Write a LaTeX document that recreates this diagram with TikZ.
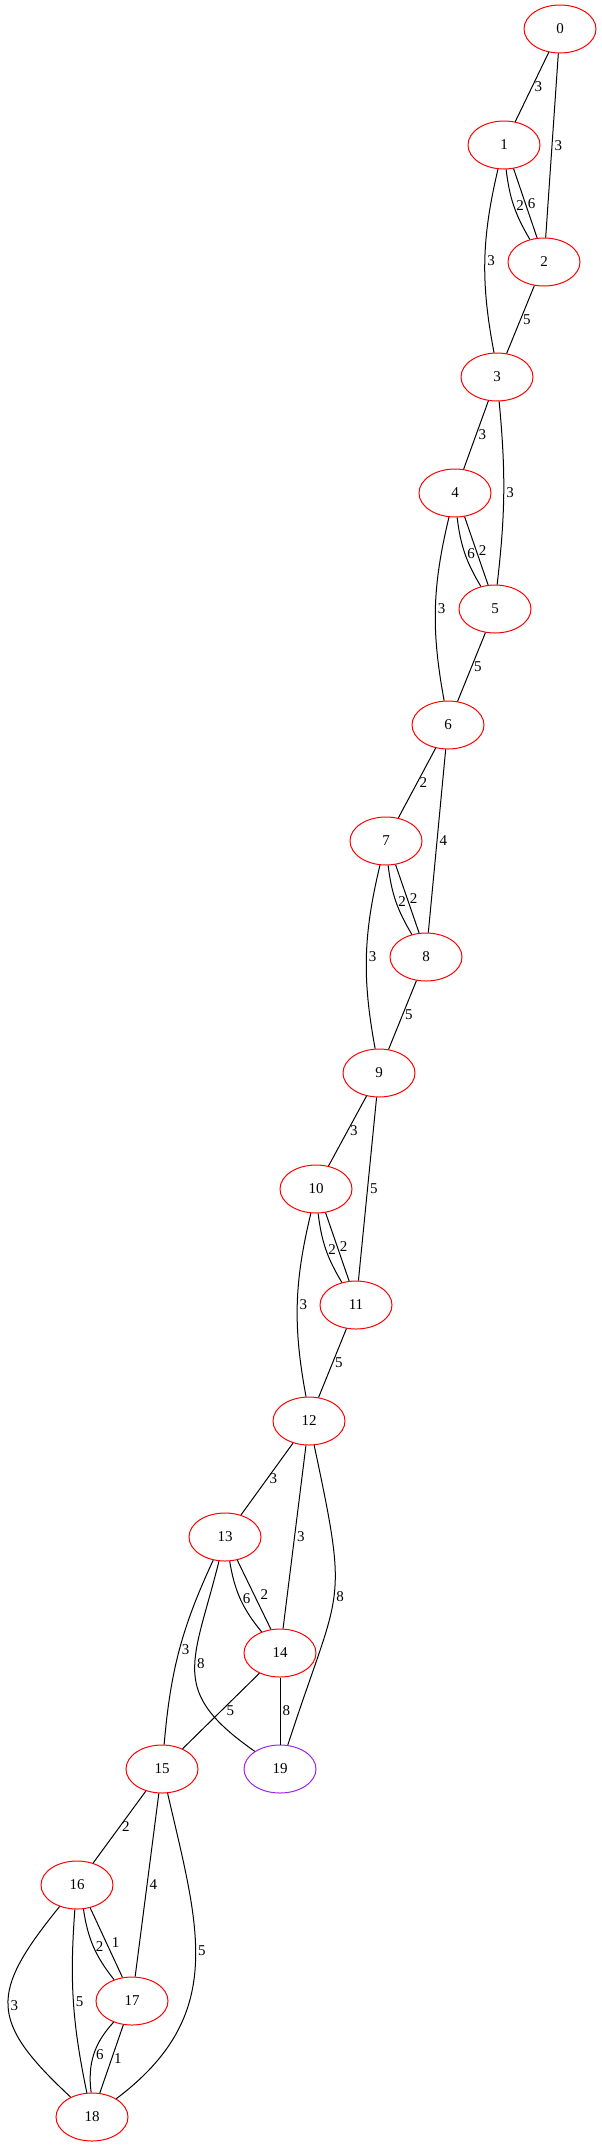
\documentclass[tikz,border=0pt]{standalone}
\usepackage{fontspec}
\setmainfont{Liberation Serif}
\usetikzlibrary{shapes.geometric}
\definecolor{gvpurple}{RGB}{160,32,240}

\begin{document}
\begin{tikzpicture}[x=1pt, y=1pt]
 \tikzstyle{vnode}=[ellipse, draw=red, line width=1pt, minimum width=72pt, minimum height=48pt, inner sep=0pt, font=\fontsize{15}{17}\selectfont]
 \tikzstyle{tnode}=[vnode, draw=gvpurple]
 \tikzstyle{line} = [draw, line width=1pt]
 \tikzstyle{lbl} = [right, inner sep=2pt, font=\fontsize{15}{17}\selectfont]

 \useasboundingbox (0,0) rectangle (602,-2147);

 \node[vnode] (n0) at (560,-29) {0};
 \node[vnode] (n1) at (504,-145) {1};
 \node[vnode] (n2) at (544,-262) {2};
 \node[vnode] (n3) at (497,-377) {3};
 \node[vnode] (n4) at (455,-493) {4};
 \node[vnode] (n5) at (495,-609) {5};
 \node[vnode] (n6) at (448,-725) {6};
 \node[vnode] (n7) at (386,-841) {7};
 \node[vnode] (n8) at (426,-957) {8};
 \node[vnode] (n9) at (379,-1073) {9};
 \node[vnode] (n10) at (316,-1189) {10};
 \node[vnode] (n11) at (356,-1305) {11};
 \node[vnode] (n12) at (309,-1421) {12};
 \node[vnode] (n13) at (225,-1537) {13};
 \node[vnode] (n14) at (280,-1653) {14};
 \node[vnode] (n15) at (162,-1769) {15};
 \node[tnode] (n19) at (280,-1769) {19};
 \node[vnode] (n16) at (77,-1885) {16};
 \node[vnode] (n17) at (132,-2001) {17};
 \node[vnode] (n18) at (92,-2117) {18};

 \path [line] (n0) -- node[lbl] {3} (n1);
 \path [line] (n0) -- node[lbl] {3} (n2);
 \path [line] (n1.-85) to[bend right=12] node[lbl] {2} (n2.122);
 \path [line] (n1.-68) -- node[lbl] {6} (n2.106);
 \path [line] (n1.-104) to[bend right=12] node[lbl] {3} (n3.97);
 \path [line] (n2) -- node[lbl] {5} (n3);

 \path [line] (n3) -- node[lbl] {3} (n4);
 \path [line] (n3.-85) to[bend left=6] node[lbl] {3} (n5.85);
 \path [line] (n4.-85) to[bend right=12] node[lbl] {6} (n5.122);
 \path [line] (n4.-68) -- node[lbl] {2} (n5.106);
 \path [line] (n4.-104) to[bend right=12] node[lbl] {3} (n6.99);
 \path [line] (n5) -- node[lbl] {5} (n6);

 \path [line] (n6) -- node[lbl] {2} (n7);
 \path [line] (n6) -- node[lbl] {4} (n8);
 \path [line] (n7.-85) to[bend right=12] node[lbl] {2} (n8.122);
 \path [line] (n7.-68) -- node[lbl] {2} (n8.106);
 \path [line] (n7.-104) to[bend right=12] node[lbl] {3} (n9.99);
 \path [line] (n8) -- node[lbl] {5} (n9);

 \path [line] (n9) -- node[lbl] {3} (n10);
 \path [line] (n9) -- node[lbl] {5} (n11);
 \path [line] (n10.-85) to[bend right=12] node[lbl] {2} (n11.122);
 \path [line] (n10.-68) -- node[lbl] {2} (n11.106);
 \path [line] (n10.-102) to[bend right=12] node[lbl] {3} (n12.97);
 \path [line] (n11) -- node[lbl] {5} (n12);

 \path [line] (n12) -- node[lbl] {3} (n13);
 \path [line] (n12) -- node[lbl] {3} (n14);
 \path [line] (n12) to[out=-78, in=72, looseness=1.45] node[lbl] {8} (n19);
 \path [line] (n13.-79) to[bend right=15] node[lbl] {6} (n14.131);
 \path [line] (n13.-62) -- node[lbl, xshift=4pt] {2} (n14.111);
 \path [line] (n13.-117) to[bend right=10] node[lbl] {3} (n15.85);
 \path [line] (n13) to[out=-104, in=145, looseness=1.4] node[lbl, pos=0.45] {8} (n19);
 \path [line] (n14) -- node[lbl, xshift=3pt] {5} (n15);
 \path [line] (n14) -- node[lbl] {8} (n19);

 \path [line] (n15) -- node[lbl] {2} (n16);
 \path [line] (n15) -- node[lbl] {4} (n17);
 \path [line] (n15) to[out=-77, in=37, looseness=1.15] node[lbl, pos=0.45] {5} (n18);
 \path [line] (n16.-75) to[bend right=15] node[lbl] {2} (n17.130);
 \path [line] (n16.-60) -- node[lbl, xshift=3pt] {1} (n17.112);
 \path [line] (n16) to[out=-129, in=137, looseness=1.5] node[lbl] {3} (n18);
 \path [line] (n16.-95) to[bend right=8] node[lbl] {5} (n18.102);
 \path [line] (n17.-131) to[bend right=25] node[lbl] {6} (n18.92);
 \path [line] (n17.-110) -- node[lbl] {1} (n18.72);

\end{tikzpicture}
\end{document}
